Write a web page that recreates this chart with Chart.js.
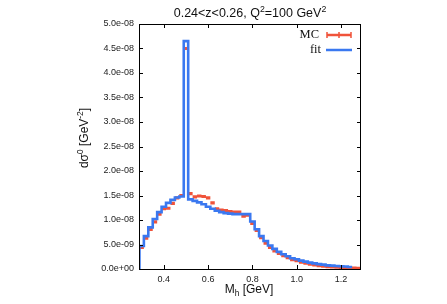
<!DOCTYPE html>
<html>
<head>
<meta charset="utf-8">
<script src="https://cdn.jsdelivr.net/npm/chart.js@4.4.0/dist/chart.umd.min.js"></script>
<style>
  html, body { margin: 0; padding: 0; background: #fff; }
</style>
</head>
<body>
<canvas id="chart" width="447" height="304"></canvas>
<script>
// bin centres in M_h [GeV], bin width 0.02
const binCenters = [0.30, 0.32, 0.34, 0.36, 0.38, 0.40, 0.42, 0.44, 0.46, 0.48,
                    0.50, 0.52, 0.54, 0.56, 0.58, 0.60, 0.62, 0.64, 0.66, 0.68,
                    0.70, 0.72, 0.74, 0.76, 0.78, 0.80, 0.82, 0.84, 0.86, 0.88,
                    0.90, 0.92, 0.94, 0.96, 0.98, 1.00, 1.02, 1.04, 1.06, 1.08,
                    1.10, 1.12, 1.14, 1.16, 1.18, 1.20, 1.22, 1.24, 1.26, 1.28];
const binWidth = 0.02;
const unit = 1e-9;

// MC histogram (units of 1e-9 GeV^-2)
const mcValues = [4.4, 6.3, 8.1, 9.6, 11.2, 12.3, 12.4, 13.4, 14.5, 15.0,
                  45.0, 15.4, 14.7, 14.9, 14.8, 14.5, 13.5, 12.3, 12.0, 11.9,
                  11.7, 11.6, 11.6, 10.8, 11.0, 9.3, 7.9, 6.4, 5.3, 4.4,
                  3.7, 3.2, 2.7, 2.3, 1.9, 1.7, 1.4, 1.2, 1.0, 0.85,
                  0.7, 0.6, 0.5, 0.45, 0.4, 0.35, 0.3, 0.25, 0.2, 0.15];

// fit histogram (units of 1e-9 GeV^-2), covers the first 48 bins
const fitValues = [4.7, 6.7, 8.5, 10.2, 11.6, 12.7, 13.5, 14.1, 14.6, 14.8,
                   46.5, 14.2, 13.9, 13.6, 13.2, 12.7, 12.3, 11.9, 11.6, 11.4,
                   11.3, 11.2, 11.2, 11.2, 11.2, 9.7, 8.1, 6.7, 5.7, 4.8,
                   4.1, 3.5, 3.0, 2.6, 2.2, 2.0, 1.7, 1.5, 1.3, 1.15,
                   1.0, 0.9, 0.75, 0.68, 0.6, 0.55, 0.5, 0.4];

const xTicks = [0.4, 0.6, 0.8, 1.0, 1.2];
const yTicks = [0, 5e-9, 1e-8, 1.5e-8, 2e-8, 2.5e-8, 3e-8, 3.5e-8, 4e-8, 4.5e-8, 5e-8];

const redColor = '#f0533a';
const blueColor = '#3a78f0';

// fit as a step line through the left bin edges
const fitPoints = [{ x: binCenters[0] - binWidth / 2, y: 0 }];
fitValues.forEach((v, i) => fitPoints.push({ x: binCenters[i] - binWidth / 2, y: v * unit }));
fitPoints.push({ x: binCenters[fitValues.length - 1] + binWidth / 2, y: fitValues[fitValues.length - 1] * unit });

// MC as horizontal error bars, broken between bins
const mcPoints = [];
mcValues.forEach((v, i) => {
    mcPoints.push({ x: binCenters[i] - binWidth / 2, y: v * unit });
    mcPoints.push({ x: binCenters[i] + binWidth / 2, y: v * unit });
    mcPoints.push({ x: binCenters[i] + binWidth / 2, y: null });
});

const formatExp = v => {
    if (v === 0) return '0.0e+00';
    const [m, e] = v.toExponential(1).split('e');
    const n = parseInt(e, 10);
    return m + 'e' + (n < 0 ? '-' : '+') + String(Math.abs(n)).padStart(2, '0');
};

// draws text made of normal / superscript / subscript pieces
const drawRich = (ctx, parts, size, family) => {
    const small = size * 0.7;
    let total = 0;
    parts.forEach(p => {
        ctx.font = (p.sup || p.sub ? small : size) + 'px ' + family;
        p.w = ctx.measureText(p.t).width;
        total += p.w;
    });
    let x = -total / 2;
    ctx.textAlign = 'left';
    ctx.textBaseline = 'middle';
    parts.forEach(p => {
        ctx.font = (p.sup || p.sub ? small : size) + 'px ' + family;
        const dy = p.sup ? -size * 0.38 : (p.sub ? size * 0.3 : 0);
        ctx.fillText(p.t, x, dy);
        x += p.w;
    });
};

const framePlugin = {
    id: 'frame',
    afterDraw(chart) {
        const { ctx, chartArea: a, scales } = chart;
        ctx.save();
        ctx.strokeStyle = '#000';
        ctx.lineWidth = 1;
        ctx.strokeRect(a.left + 0.5, a.top + 0.5, a.right - a.left - 1, a.bottom - a.top);
        ctx.beginPath();
        yTicks.forEach(v => {
            const y = Math.round(scales.y.getPixelForValue(v)) + 0.5;
            ctx.moveTo(a.left, y); ctx.lineTo(a.left + 4, y);
            ctx.moveTo(a.right, y); ctx.lineTo(a.right - 4, y);
        });
        xTicks.forEach(v => {
            const x = Math.round(scales.x.getPixelForValue(v)) + 0.5;
            ctx.moveTo(x, a.bottom); ctx.lineTo(x, a.bottom - 4);
            ctx.moveTo(x, a.top); ctx.lineTo(x, a.top + 4);
        });
        ctx.stroke();

        const sans = '"Liberation Sans", Arial, sans-serif';
        ctx.fillStyle = '#111';

        // title
        ctx.save();
        ctx.translate(250, 14);
        drawRich(ctx, [{ t: '0.24<z<0.26, Q' }, { t: '2', sup: true }, { t: '=100 GeV' }, { t: '2', sup: true }], 12.5, sans);
        ctx.restore();

        // x title
        ctx.save();
        ctx.translate(249, 290);
        drawRich(ctx, [{ t: 'M' }, { t: 'h', sub: true }, { t: ' [GeV]' }], 12, sans);
        ctx.restore();

        // y title
        ctx.save();
        ctx.translate(85, 138);
        ctx.rotate(-Math.PI / 2);
        drawRich(ctx, [{ t: 'dσ' }, { t: '0', sup: true }, { t: ' [GeV' }, { t: '-2', sup: true }, { t: ']' }], 12, sans);
        ctx.restore();

        // legend
        ctx.font = '12.5px "Liberation Serif", "Times New Roman", serif';
        ctx.textAlign = 'right';
        ctx.textBaseline = 'middle';
        ctx.fillText('MC', 319, 35);
        ctx.fillText('fit', 321, 50);
        ctx.strokeStyle = redColor;
        ctx.lineWidth = 2.5;
        ctx.beginPath();
        ctx.moveTo(327, 35); ctx.lineTo(351, 35);
        ctx.stroke();
        ctx.lineWidth = 1.5;
        ctx.beginPath();
        [327, 339, 351].forEach(x => { ctx.moveTo(x, 32); ctx.lineTo(x, 38); });
        ctx.stroke();
        ctx.strokeStyle = blueColor;
        ctx.lineWidth = 2.5;
        ctx.beginPath();
        ctx.moveTo(326, 50); ctx.lineTo(352, 50);
        ctx.stroke();
        ctx.restore();
    }
};

const ctx = document.getElementById('chart').getContext('2d');
new Chart(ctx, {
    type: 'line',
    data: {
        datasets: [{
            label: 'fit',
            data: fitPoints,
            borderColor: blueColor,
            borderWidth: 2.6,
            stepped: 'before',
            pointRadius: 0,
            fill: false,
            order: 0
        }, {
            label: 'MC',
            data: mcPoints,
            borderColor: redColor,
            borderWidth: 3.2,
            pointRadius: 0,
            spanGaps: false,
            fill: false,
            order: 1
        }]
    },
    options: {
        responsive: false,
        animation: false,
        layout: { padding: { top: 24, right: 86, bottom: 0, left: 0 } },
        plugins: {
            legend: { display: false },
            tooltip: { enabled: false }
        },
        scales: {
            x: {
                type: 'linear',
                min: 0.288,
                max: 1.29,
                grid: { display: false, drawTicks: false },
                border: { display: false },
                afterBuildTicks: s => { s.ticks = xTicks.map(v => ({ value: v })); },
                afterFit: s => { s.height = 35; },
                ticks: {
                    padding: 5,
                    color: '#222',
                    font: { family: '"Liberation Sans", Arial, sans-serif', size: 9 },
                    callback: v => v.toFixed(1)
                }
            },
            y: {
                min: 0,
                max: 5e-8,
                grid: { display: false, drawTicks: false },
                border: { display: false },
                afterBuildTicks: s => { s.ticks = yTicks.map(v => ({ value: v })); },
                afterFit: s => { s.width = 139; },
                ticks: {
                    padding: 5,
                    color: '#222',
                    font: { family: '"Liberation Sans", Arial, sans-serif', size: 9 },
                    callback: v => formatExp(v)
                }
            }
        }
    },
    plugins: [framePlugin]
});
</script>
</body>
</html>
